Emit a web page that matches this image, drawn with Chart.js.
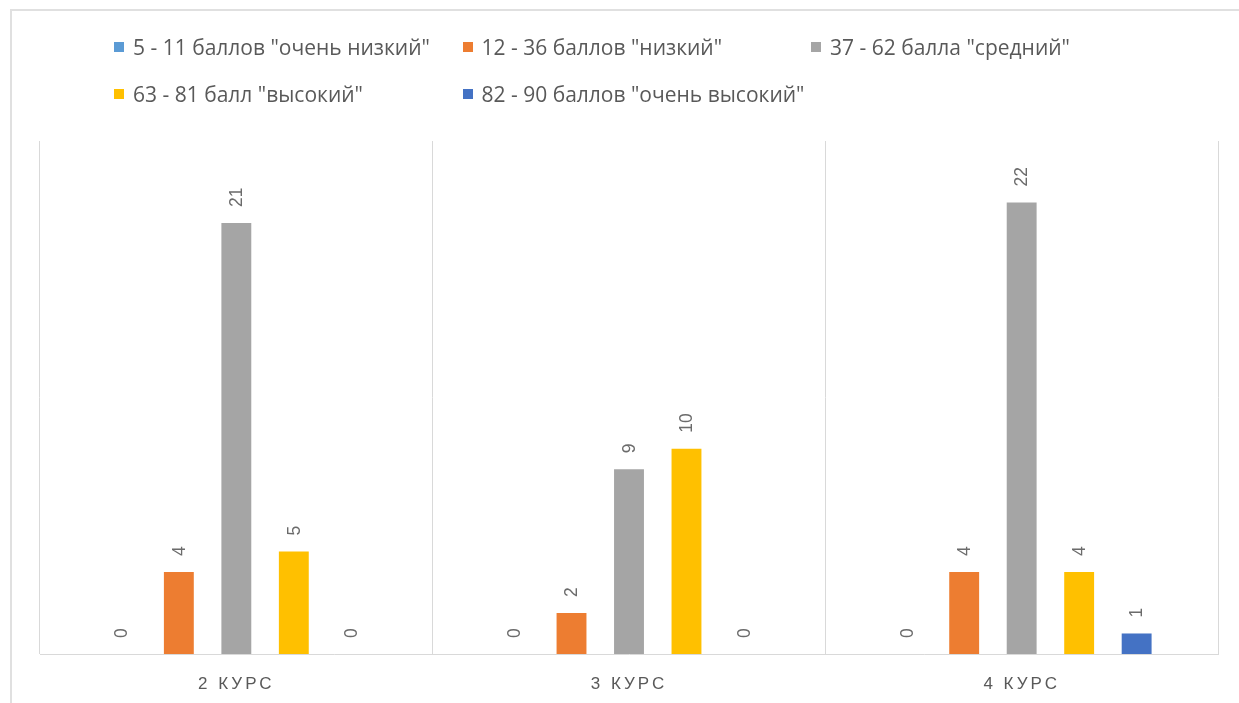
<!DOCTYPE html>
<html>
<head>
<meta charset="utf-8">
<script src="https://cdn.jsdelivr.net/npm/chart.js@4.4.1/dist/chart.umd.min.js"></script>
<style>
  html, body { margin: 0; padding: 0; background: #fff; overflow: hidden; }
  #wrap { position: relative; width: 1239px; height: 703px; }
  #frame { position: absolute; left: 10px; top: 9px; width: 1260px; height: 720px; border: 2px solid #e0e0e0; box-sizing: border-box; }
  #c { position: absolute; left: 0; top: 0; }
  #legend { position: absolute; left: 114px; top: 34px; width: 1100px; font-family: "Open Sans", "Liberation Sans", sans-serif; font-size: 21px; color: #595959; }
  .row { height: 47px; display: flex; }
  .item { width: 348.5px; display: flex; align-items: center; height: 26px; white-space: nowrap; }
  .box { width: 10px; height: 10px; margin-right: 9px; flex: none; }
</style>
</head>
<body>
<div id="wrap">
  <div id="frame"></div>
  <canvas id="c" width="1239" height="703"></canvas>
  <div id="legend"></div>
</div>
<script>
const categories = ["2 КУРС", "3 КУРС", "4 КУРС"];
const seriesNames = [
  '5 - 11 баллов "очень низкий"',
  '12 - 36 баллов "низкий"',
  '37 - 62 балла "средний"',
  '63 - 81 балл "высокий"',
  '82 - 90 баллов "очень высокий"'
];
const veryLow  = [0, 0, 0];
const low      = [4, 2, 4];
const medium   = [21, 9, 22];
const high     = [5, 10, 4];
const veryHigh = [0, 0, 1];
const seriesColors = ["#5B9BD5", "#ED7D31", "#A5A5A5", "#FFC000", "#4472C4"];
const seriesValues = [veryLow, low, medium, high, veryHigh];

// HTML legend (Excel-style column layout)
const legend = document.getElementById('legend');
const rows = [[0, 1, 2], [3, 4]];
rows.forEach(r => {
  const row = document.createElement('div');
  row.className = 'row';
  r.forEach(i => {
    const it = document.createElement('div');
    it.className = 'item';
    const b = document.createElement('span');
    b.className = 'box';
    b.style.background = seriesColors[i];
    const t = document.createElement('span');
    t.textContent = seriesNames[i];
    it.appendChild(b); it.appendChild(t);
    row.appendChild(it);
  });
  legend.appendChild(row);
});

const rotatedLabels = {
  id: 'rotatedLabels',
  afterDatasetsDraw(chart) {
    const ctx = chart.ctx;
    ctx.save();
    ctx.font = '17.5px "Liberation Sans", sans-serif';
    ctx.fillStyle = '#6b6b6b';
    ctx.textAlign = 'left';
    ctx.textBaseline = 'middle';
    chart.data.datasets.forEach((ds, di) => {
      const meta = chart.getDatasetMeta(di);
      meta.data.forEach((el, i) => {
        const v = ds.data[i];
        ctx.save();
        ctx.translate(el.x + 1, el.y - 16);
        ctx.rotate(-Math.PI / 2);
        ctx.fillText(String(v), 0, 0);
        ctx.restore();
      });
    });
    ctx.restore();
  }
};

const spacing = {
  id: 'spacing',
  beforeDraw(chart) { chart.ctx.letterSpacing = '3px'; },
  beforeDatasetsDraw(chart) { chart.ctx.letterSpacing = '0px'; }
};

new Chart(document.getElementById('c'), {
  type: 'bar',
  data: {
    labels: categories,
    datasets: seriesNames.map((n, i) => ({
      label: n,
      data: seriesValues[i],
      backgroundColor: seriesColors[i],
      categoryPercentage: 0.732,
      barPercentage: 0.52
    }))
  },
  options: {
    responsive: false,
    animation: false,
    events: [],
    layout: { padding: { left: 40, right: 21, top: 141, bottom: 0 } },
    plugins: { legend: { display: false }, tooltip: { enabled: false } },
    scales: {
      x: {
        grid: { display: true, offset: true, color: '#d9d9d9', lineWidth: 1, drawTicks: false },
        border: { display: true, color: '#d9d9d9', width: 1 },
        ticks: { color: '#595959', font: { family: '"Liberation Sans", sans-serif', size: 17 }, padding: 20 },
        afterFit(scale) { scale.height = 49; }
      },
      y: { display: false, min: 0, max: 25 }
    }
  },
  plugins: [rotatedLabels, spacing]
});
</script>
</body>
</html>
